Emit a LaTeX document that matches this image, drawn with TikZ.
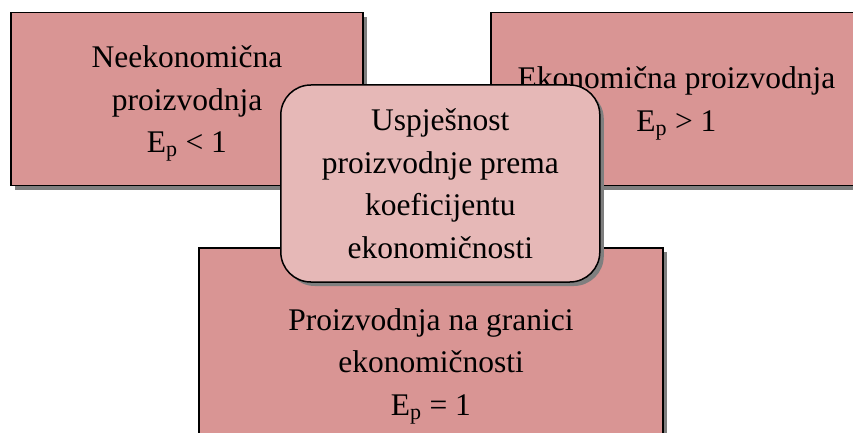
\documentclass[tikz,border=0pt]{standalone}
\usepackage{fontspec}
\setmainfont{Liberation Serif}
\usetikzlibrary{shadows}
\definecolor{boxfill}{HTML}{D99594}
\definecolor{centerfill}{HTML}{E6B8B7}
\definecolor{shadowgrey}{HTML}{7F7F7F}
\tikzset{
  outerbox/.style={draw=black, line width=1.3pt, fill=boxfill, inner sep=0pt,
    align=center, font=\fontsize{31.5}{42.5}\selectfont, text depth=0pt,
    drop shadow={shadow xshift=4pt, shadow yshift=-4pt, fill=shadowgrey, opacity=1}},
  centerbox/.style={outerbox, fill=centerfill, rounded corners=30pt, line width=1.5pt}
}
\begin{document}
\begin{tikzpicture}[x=1pt, y=-1pt]
\useasboundingbox (0,0) rectangle (853,433);
\clip (0,0) rectangle (853,433);
\node[outerbox, minimum width=352pt, minimum height=173pt] (left) at (187,99.2)
  {Neekonomična\\proizvodnja\\E\textsubscript{p} < 1};
\node[outerbox, minimum width=371pt, minimum height=173pt] (right) at (676.5,99.2)
  {Ekonomična proizvodnja\\E\textsubscript{p} > 1};
\node[outerbox, minimum width=464pt, minimum height=228pt] (bottom) at (431,362)
  {Proizvodnja na granici\\ekonomičnosti\\E\textsubscript{p} = 1};
\node[centerbox, minimum width=319pt, minimum height=197pt] (center) at (440.3,183.5)
  {Uspješnost\\proizvodnje prema\\koeficijentu\\ekonomičnosti};
\end{tikzpicture}
\end{document}
